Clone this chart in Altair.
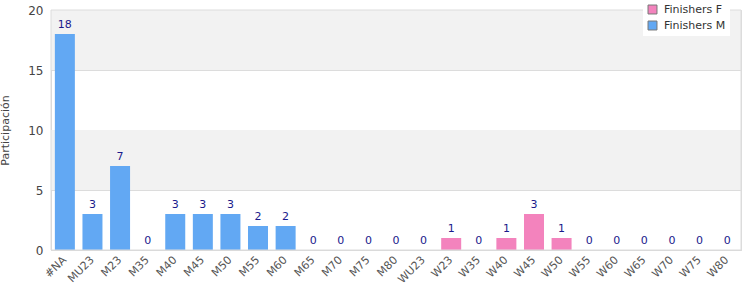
import altair as alt
import pandas as pd

categories = ["#NA", "MU23", "M23", "M35", "M40", "M45", "M50", "M55", "M60", "M65",
              "M70", "M75", "M80", "WU23", "W23", "W35", "W40", "W45", "W50", "W55",
              "W60", "W65", "W70", "W75", "W80"]
values = [18, 3, 7, 0, 3, 3, 3, 2, 2, 0, 0, 0, 0, 0, 1, 0, 1, 3, 1, 0, 0, 0, 0, 0, 0]
series = ["Finishers M"] * 13 + ["Finishers F"] * 12
band_lo = [15, 5]
band_hi = [20, 10]

df = pd.DataFrame({"cat": categories, "val": values, "series": series})
bands = pd.DataFrame({"lo": band_lo, "hi": band_hi})

FONT = "DejaVu Sans"
yscale = alt.Scale(domain=[0, 20], nice=False)
xenc = alt.X("cat:N", sort=categories,
             scale=alt.Scale(paddingInner=0.275, paddingOuter=0.14),
             axis=alt.Axis(title=None, labelAngle=-45, labelAlign="right", labelBaseline="middle",
                           labelFontSize=11, labelColor="#555", labelFont=FONT, ticks=False,
                           domainColor="#d8d8d8", labelPadding=8))

band_layer = alt.Chart(bands).mark_rect(color="#f2f2f2").encode(
    y=alt.Y("lo:Q", scale=yscale),
    y2="hi:Q",
    x=alt.value(0), x2=alt.value(690))

bars = alt.Chart(df).mark_bar().encode(
    x=xenc,
    y=alt.Y("val:Q", scale=yscale,
            axis=alt.Axis(title="Participación", values=[0, 5, 10, 15, 20], grid=True,
                          gridColor="#dcdcdc", ticks=False, domainColor="#d8d8d8",
                          labelFontSize=12, labelColor="#444", labelFont=FONT, labelPadding=8,
                          titleFontSize=11, titleColor="#444", titleFont=FONT,
                          titleFontWeight="normal", titlePadding=17)),
    color=alt.Color("series:N",
                    scale=alt.Scale(domain=["Finishers F", "Finishers M"],
                                    range=["#f383bd", "#62a8f3"]),
                    legend=alt.Legend(title=None, orient="none", legendX=592, legendY=-10,
                                      fillColor="white", padding=4, symbolType="square",
                                      symbolSize=80, symbolStrokeColor="#777", symbolStrokeWidth=1,
                                      labelFontSize=11, labelColor="#333", labelFont=FONT,
                                      rowPadding=3, labelOffset=6)))

labels = alt.Chart(df).mark_text(baseline="bottom", dy=-4, fontSize=11, color="#1a1a8c",
                                 font=FONT).encode(
    x=alt.X("cat:N", sort=categories), y=alt.Y("val:Q", scale=yscale), text="val:Q")

border = alt.Chart(bands.head(1)).mark_rect(fill="transparent", stroke="#dcdcdc",
                                            strokeWidth=1).encode(
    x=alt.value(0), x2=alt.value(690), y=alt.value(0), y2=alt.value(240))

chart = alt.layer(band_layer, bars, labels, border).properties(
    width=690, height=240,
    autosize=alt.AutoSizeParams(type="none"),
    padding={"left": 51, "top": 10, "right": 9, "bottom": 50},
).configure_view(stroke=None).configure(background="white")

chart.save("out.html", embed_options={"renderer": "svg", "actions": False})
